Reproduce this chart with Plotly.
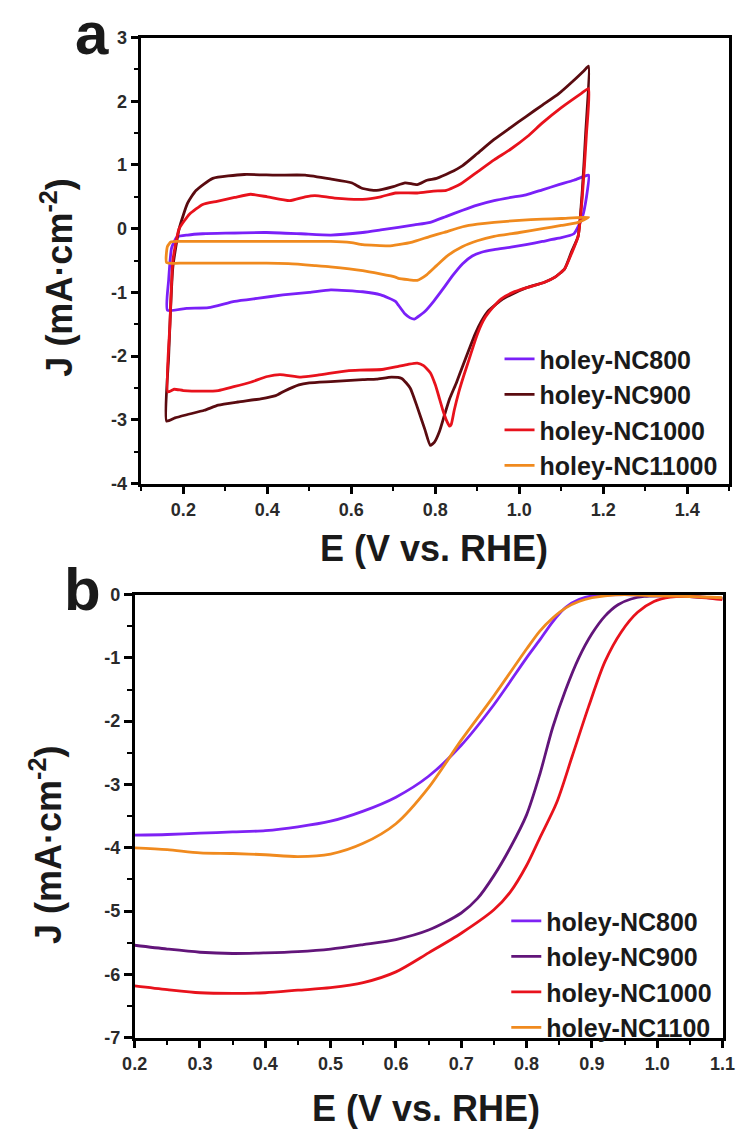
import plotly.graph_objects as go

# ---------------- Panel a: CV data (E in V vs RHE, J in mA/cm2) ----------------
cv_labels = ["holey-NC800", "holey-NC900", "holey-NC1000", "holey-NC11000"]

cv800_E = [0.162, 0.165, 0.172, 0.185, 0.21, 0.246, 0.3, 0.398, 0.48, 0.551, 0.627, 0.67, 0.712, 0.75, 0.788,
           0.825, 0.865, 0.9, 0.94, 0.98, 1.016, 1.055, 1.094, 1.13, 1.154, 1.165,
           1.16, 1.15, 1.13, 1.094, 1.055, 1.016, 0.98, 0.94, 0.91, 0.888, 0.865, 0.842, 0.82, 0.796, 0.775,
           0.757, 0.75, 0.74, 0.728, 0.712, 0.705, 0.67, 0.627, 0.551, 0.5, 0.437, 0.38, 0.322, 0.26, 0.208, 0.162]
cv800_J = [-1.28, -0.8, -0.3, -0.13, -0.1, -0.08, -0.07, -0.06, -0.08, -0.1, -0.06, -0.02, 0.02, 0.06, 0.1,
           0.19, 0.29, 0.37, 0.44, 0.49, 0.53, 0.61, 0.69, 0.76, 0.82, 0.84,
           0.5, 0.18, -0.08, -0.15, -0.2, -0.25, -0.29, -0.33, -0.37, -0.43, -0.55, -0.73, -0.93, -1.14, -1.3,
           -1.39, -1.42, -1.4, -1.34, -1.2, -1.14, -1.04, -0.99, -0.96, -1.0, -1.04, -1.09, -1.14, -1.24, -1.25, -1.28]

cv900_E = [0.16, 0.165, 0.175, 0.19, 0.21, 0.23, 0.27, 0.345, 0.42, 0.49, 0.55, 0.6, 0.627, 0.66, 0.7, 0.728,
           0.757, 0.78, 0.803, 0.835, 0.865, 0.9, 0.94, 0.98, 1.016, 1.055, 1.094, 1.13, 1.154, 1.165,
           1.158, 1.15, 1.14, 1.125, 1.108, 1.085, 1.06, 1.016, 0.985, 0.957, 0.925, 0.91, 0.895, 0.88, 0.865,
           0.85, 0.834, 0.822, 0.81, 0.798, 0.788, 0.775, 0.757, 0.74, 0.72, 0.696, 0.66, 0.627, 0.551, 0.5,
           0.475, 0.44, 0.42, 0.384, 0.33, 0.283, 0.25, 0.208, 0.18, 0.16]
cv900_J = [-3.02, -2.0, -0.6, 0.0, 0.4, 0.6, 0.79, 0.85, 0.84, 0.84, 0.78, 0.72, 0.63, 0.6, 0.66, 0.72,
           0.69, 0.76, 0.79, 0.88, 0.99, 1.18, 1.4, 1.59, 1.76, 1.94, 2.12, 2.33, 2.48, 2.55,
           1.5, 0.6, -0.12, -0.35, -0.63, -0.76, -0.84, -0.93, -1.02, -1.12, -1.3, -1.45, -1.65, -1.9, -2.16,
           -2.42, -2.67, -2.92, -3.18, -3.35, -3.4, -3.15, -2.8, -2.5, -2.35, -2.33, -2.36, -2.37, -2.4, -2.42,
           -2.45, -2.55, -2.62, -2.67, -2.72, -2.77, -2.85, -2.92, -2.97, -3.02]

cv1000_E = [0.163, 0.168, 0.175, 0.19, 0.215, 0.246, 0.28, 0.322, 0.36, 0.4, 0.453, 0.49, 0.513, 0.56, 0.627,
            0.67, 0.705, 0.757, 0.796, 0.826, 0.86, 0.902, 0.94, 0.98, 1.02, 1.055, 1.1, 1.147, 1.165,
            1.16, 1.15, 1.14, 1.125, 1.108, 1.085, 1.06, 1.016, 0.985, 0.957, 0.935, 0.92, 0.91, 0.895, 0.88,
            0.868, 0.856, 0.845, 0.838, 0.834, 0.826, 0.818, 0.81, 0.8, 0.788, 0.772, 0.757, 0.735, 0.712,
            0.673, 0.62, 0.59, 0.52, 0.48, 0.43, 0.4, 0.36, 0.32, 0.283, 0.25, 0.2, 0.178, 0.163]
cv1000_J = [-2.56, -1.5, -0.5, 0.0, 0.23, 0.38, 0.43, 0.49, 0.54, 0.5, 0.44, 0.5, 0.52, 0.48, 0.46,
            0.5, 0.56, 0.56, 0.59, 0.6, 0.7, 0.9, 1.08, 1.25, 1.45, 1.66, 1.9, 2.12, 2.2,
            1.5, 0.5, -0.12, -0.38, -0.63, -0.76, -0.84, -0.93, -1.0, -1.1, -1.25, -1.38, -1.5, -1.75, -2.06,
            -2.3, -2.56, -2.85, -3.07, -3.1, -3.0, -2.85, -2.67, -2.45, -2.26, -2.15, -2.11, -2.13, -2.16,
            -2.21, -2.22, -2.23, -2.3, -2.33, -2.29, -2.32, -2.41, -2.48, -2.54, -2.55, -2.54, -2.52, -2.56]

cv1100_E = [0.16, 0.162, 0.17, 0.185, 0.322, 0.45, 0.551, 0.6, 0.627, 0.689, 0.712, 0.745, 0.788, 0.82, 0.865,
            0.9, 0.94, 1.0, 1.055, 1.1, 1.165,
            1.14, 1.1, 1.055, 1.0, 0.94, 0.9, 0.865, 0.83, 0.803, 0.78, 0.757, 0.735, 0.712, 0.705, 0.627,
            0.55, 0.513, 0.45, 0.398, 0.3, 0.246, 0.2, 0.16]
cv1100_J = [-0.53, -0.28, -0.21, -0.2, -0.2, -0.2, -0.2, -0.22, -0.25, -0.27, -0.25, -0.21, -0.12, -0.06, 0.03,
            0.07, 0.1, 0.13, 0.15, 0.16, 0.18,
            0.1, 0.05, 0.0, -0.06, -0.12, -0.19, -0.28, -0.42, -0.58, -0.72, -0.81, -0.8, -0.78, -0.76, -0.66,
            -0.6, -0.58, -0.55, -0.54, -0.54, -0.54, -0.54, -0.53]

# ---------------- Panel b: LSV data ----------------
lsv_labels = ["holey-NC800", "holey-NC900", "holey-NC1000", "holey-NC1100"]

lsv800_E = [0.2, 0.25, 0.3, 0.35, 0.4, 0.45, 0.5, 0.55, 0.6, 0.65, 0.7, 0.75, 0.8, 0.82, 0.84, 0.86, 0.88, 0.9,
            0.95, 1.0, 1.05, 1.1]
lsv800_J = [-3.8, -3.79, -3.77, -3.75, -3.73, -3.67, -3.58, -3.42, -3.2, -2.87, -2.38, -1.74, -1.0, -0.72,
            -0.43, -0.2, -0.08, -0.02, 0.0, -0.02, -0.03, -0.06]

lsv900_E = [0.2, 0.25, 0.3, 0.35, 0.4, 0.45, 0.5, 0.55, 0.6, 0.65, 0.7, 0.725, 0.75, 0.775, 0.8, 0.82, 0.84,
            0.86, 0.88, 0.9, 0.92, 0.94, 0.96, 0.98, 1.0, 1.05, 1.1]
lsv900_J = [-5.54, -5.6, -5.65, -5.67, -5.66, -5.64, -5.6, -5.53, -5.45, -5.3, -5.03, -4.8, -4.44, -4.0, -3.48,
            -2.85, -2.1, -1.5, -1.0, -0.62, -0.34, -0.16, -0.07, -0.03, -0.02, -0.03, -0.06]

lsv1000_E = [0.2, 0.25, 0.3, 0.35, 0.4, 0.45, 0.5, 0.55, 0.6, 0.65, 0.7, 0.75, 0.775, 0.8, 0.82, 0.846, 0.87,
             0.895, 0.92, 0.945, 0.97, 0.995, 1.02, 1.05, 1.1]
lsv1000_J = [-6.18, -6.24, -6.29, -6.3, -6.29, -6.25, -6.21, -6.13, -5.96, -5.66, -5.35, -4.98, -4.7, -4.28,
             -3.85, -3.29, -2.55, -1.77, -1.06, -0.59, -0.28, -0.11, -0.04, -0.03, -0.08]

lsv1100_E = [0.2, 0.25, 0.3, 0.35, 0.4, 0.45, 0.5, 0.55, 0.6, 0.65, 0.7, 0.75, 0.8, 0.82, 0.84, 0.86, 0.88,
             0.9, 0.92, 0.95, 1.0, 1.05, 1.1]
lsv1100_J = [-4.0, -4.03, -4.08, -4.09, -4.11, -4.14, -4.1, -3.93, -3.62, -3.05, -2.3, -1.6, -0.86, -0.58,
             -0.37, -0.21, -0.11, -0.05, -0.02, 0.0, -0.02, -0.03, -0.05]

# tick labels
a_xticks = [0.2, 0.4, 0.6, 0.8, 1.0, 1.2, 1.4]
a_xticktext = ["0.2", "0.4", "0.6", "0.8", "1.0", "1.2", "1.4"]
a_yticks = [-4, -3, -2, -1, 0, 1, 2, 3]
a_yticktext = ["-4", "-3", "-2", "-1", "0", "1", "2", "3"]
b_xticks = [0.2, 0.3, 0.4, 0.5, 0.6, 0.7, 0.8, 0.9, 1.0, 1.1]
b_xticktext = ["0.2", "0.3", "0.4", "0.5", "0.6", "0.7", "0.8", "0.9", "1.0", "1.1"]
b_yticks = [-7, -6, -5, -4, -3, -2, -1, 0]
b_yticktext = ["-7", "-6", "-5", "-4", "-3", "-2", "-1", "0"]

# ---------------- styling ----------------
W, H = 750, 1142
FONT = "Liberation Sans, Arial, sans-serif"
colors_a = ["#7a20f8", "#5a0b10", "#e8121c", "#f08a1e"]
colors_b = ["#7e22f4", "#62157a", "#e8121c", "#f08a1e"]
LW = 2.8

fig = go.Figure()

cv_sets = [(cv800_E, cv800_J), (cv900_E, cv900_J), (cv1000_E, cv1000_J), (cv1100_E, cv1100_J)]
for (E, J), name, c in zip(cv_sets, cv_labels, colors_a):
    fig.add_trace(go.Scatter(x=E, y=J, mode="lines", name=name, xaxis="x", yaxis="y",
                             line=dict(color=c, width=LW, shape="spline", smoothing=0.5), legend="legend"))

lsv_sets = [(lsv800_E, lsv800_J), (lsv900_E, lsv900_J), (lsv1000_E, lsv1000_J), (lsv1100_E, lsv1100_J)]
for (E, J), name, c in zip(lsv_sets, lsv_labels, colors_b):
    fig.add_trace(go.Scatter(x=E, y=J, mode="lines", name=name, xaxis="x2", yaxis="y2",
                             line=dict(color=c, width=LW, shape="spline", smoothing=0.8), legend="legend2"))


def px_x(p):
    return p / W


def px_y(p):
    return 1 - p / H


tickfont = dict(family=FONT, size=18, color="#2a2a2a", weight="bold")
axis_common = dict(showline=True, linecolor="black", linewidth=2.5, mirror=True, showgrid=False,
                   zeroline=False, ticks="outside", ticklen=8, tickwidth=2.5, tickcolor="black",
                   tickfont=tickfont, tickmode="array")

legend_font = dict(family=FONT, size=25, color="#1a1a1a", weight="bold")
fig.update_layout(
    width=W, height=H, margin=dict(l=0, r=0, t=0, b=0),
    paper_bgcolor="white", plot_bgcolor="white",
    xaxis=dict(domain=[px_x(133), px_x(742)], range=[0.1, 1.5], tickvals=a_xticks, ticktext=a_xticktext,
               minor=dict(dtick=0.1, tick0=0.1, ticks="outside", ticklen=5, tickwidth=2.2, tickcolor="black"),
               anchor="y", **axis_common),
    yaxis=dict(domain=[px_y(482), px_y(28)], range=[-4, 3], tickvals=a_yticks, ticktext=a_yticktext,
               minor=dict(dtick=0.5, tick0=0, ticks="outside", ticklen=5, tickwidth=2.2, tickcolor="black"),
               anchor="x", **axis_common),
    xaxis2=dict(domain=[px_x(126), px_x(735)], range=[0.2, 1.1], tickvals=b_xticks, ticktext=b_xticktext,
                minor=dict(dtick=0.05, tick0=0.2, ticks="outside", ticklen=5, tickwidth=2.2, tickcolor="black"),
                anchor="y2", **axis_common),
    yaxis2=dict(domain=[px_y(1046), px_y(595)], range=[-7, 0], tickvals=b_yticks, ticktext=b_yticktext,
                minor=dict(dtick=0.5, tick0=0, ticks="outside", ticklen=5, tickwidth=2.2, tickcolor="black"),
                anchor="x2", **axis_common),
    legend=dict(x=px_x(504), y=px_y(332), xanchor="left", yanchor="top", bgcolor="rgba(0,0,0,0)",
                font=legend_font, tracegroupgap=0, itemwidth=30),
    legend2=dict(x=px_x(511), y=px_y(904), xanchor="left", yanchor="top", bgcolor="rgba(0,0,0,0)",
                 font=legend_font, tracegroupgap=0, itemwidth=30),
)

title_font = dict(family=FONT, size=36, color="#1a1a1a", weight="bold")
ann = [
    dict(text="a", x=px_x(82), y=px_y(24), font=dict(family=FONT, size=60, color="#1a1a1a", weight="bold")),
    dict(text="b", x=px_x(72), y=px_y(590), font=dict(family=FONT, size=60, color="#1a1a1a", weight="bold")),
    dict(text="E (V vs. RHE)", x=px_x(436), y=px_y(548), font=title_font),
    dict(text="E (V vs. RHE)", x=px_x(428), y=px_y(1118), font=title_font),
    dict(text="J (mA·cm<sup>-2</sup>)", x=px_x(46), y=px_y(272), textangle=-90, font=title_font),
    dict(text="J (mA·cm<sup>-2</sup>)", x=px_x(34), y=px_y(850), textangle=-90, font=title_font),
]
for a in ann:
    a.update(xref="paper", yref="paper", showarrow=False, xanchor="center", yanchor="middle")
fig.update_layout(annotations=ann)

fig.write_html("out.html")
